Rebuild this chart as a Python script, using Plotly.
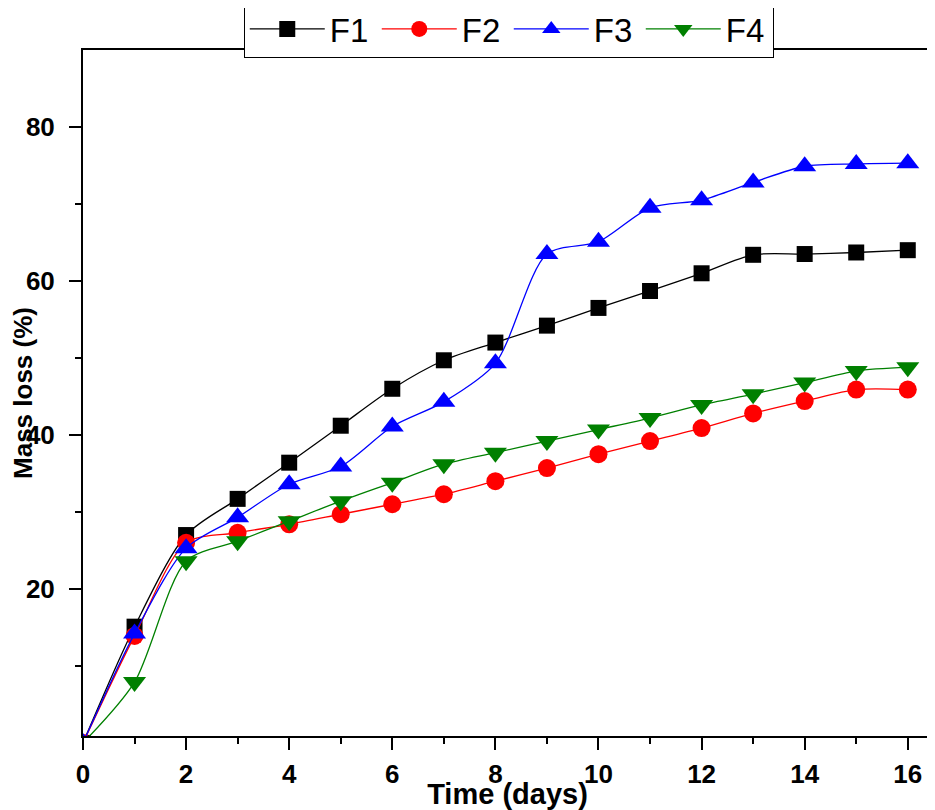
import plotly.graph_objects as go

# Data
days = [0, 1, 2, 3, 4, 5, 6, 7, 8, 9, 10, 11, 12, 13, 14, 15, 16]
f1 = [0, 15.1, 27.0, 31.7, 36.4, 41.2, 46.0, 49.7, 52.0, 54.2, 56.5, 58.7, 61.0, 63.4, 63.5, 63.7, 64.0]
f2 = [0, 13.9, 26.0, 27.3, 28.4, 29.7, 31.0, 32.3, 34.0, 35.7, 37.5, 39.2, 40.9, 42.8, 44.4, 45.9, 45.9]
f3 = [0, 14.2, 25.3, 29.3, 33.6, 35.9, 41.1, 44.3, 49.3, 63.5, 65.1, 69.5, 70.5, 72.8, 74.9, 75.2, 75.3]
f4 = [0, 7.9, 23.6, 26.2, 28.8, 31.4, 33.8, 36.2, 37.7, 39.2, 40.7, 42.2, 43.9, 45.3, 46.8, 48.3, 48.8]

series = [
    ("F1", f1, "#000000", "square", 16),
    ("F2", f2, "#ff0000", "circle", 18),
    ("F3", f3, "#0000ff", "triangle-up", 20),
    ("F4", f4, "#008000", "triangle-down", 20),
]

fig = go.Figure()
for name, vals, color, sym, size in series:
    fig.add_trace(go.Scatter(
        x=days, y=vals, name=name, mode="lines+markers",
        line=dict(color=color, width=1.3, shape="spline", smoothing=0.8),
        marker=dict(symbol=sym, size=size, color=color),
    ))

font_family = "Arial, Liberation Sans, sans-serif"
tick_font = dict(family=font_family, size=26, color="black", weight="bold")

fig.update_xaxes(
    range=[0, 16.47], tickvals=[0, 2, 4, 6, 8, 10, 12, 14, 16],
    ticks="outside", ticklen=12, tickwidth=2, tickcolor="black",
    minor=dict(dtick=1, tick0=1, ticks="outside", ticklen=6, tickwidth=2, tickcolor="black"),
    showline=True, linewidth=2, linecolor="black", mirror=True,
    showgrid=False, zeroline=False, automargin=False,
    tickfont=tick_font, ticklabelstandoff=2,
    title=dict(text="<b>Time (days)</b>", font=dict(family=font_family, size=29, color="black"), standoff=7),
)
fig.update_yaxes(
    range=[0.9, 90], tickvals=[20, 40, 60, 80],
    ticks="outside", ticklen=12, tickwidth=2, tickcolor="black",
    minor=dict(tickvals=[10, 30, 50, 70], ticks="outside", ticklen=6, tickwidth=2, tickcolor="black"),
    showline=True, linewidth=2, linecolor="black", mirror=True,
    showgrid=False, zeroline=False, automargin=False,
    tickfont=tick_font, ticklabelstandoff=9,
    title=dict(text="<b>Mass loss (%)</b>", font=dict(family=font_family, size=26, color="black"), standoff=4),
)

# the page body adds an 8px margin, so the figure is 8px smaller and margins shifted
fig.update_layout(
    width=927, height=802,
    margin=dict(l=75, r=3, t=42, b=74, autoexpand=False),
    plot_bgcolor="white", paper_bgcolor="white",
    showlegend=True,
    legend=dict(
        orientation="h", x=0.187 + 2 / 849, y=1 + 50 / 686, xanchor="left", yanchor="top",
        bgcolor="white", bordercolor="black", borderwidth=1,
        font=dict(family="Liberation Sans Narrow, Arial Narrow, Arial, sans-serif", size=33, color="black"),
        entrywidth=42, itemwidth=75,
    ),
)

fig.write_html("out.html")
